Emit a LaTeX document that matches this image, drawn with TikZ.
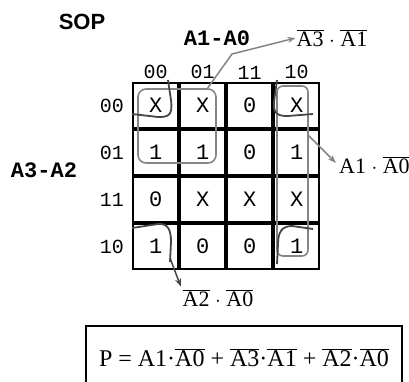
\documentclass[tikz,border=0pt]{standalone}
\usepackage{fontspec}
\setmainfont{Liberation Serif}
\setsansfont{Liberation Sans}
\setmonofont{Liberation Mono}
\usepackage{tikz}
\usetikzlibrary{matrix}
\usetikzlibrary{positioning}
\usetikzlibrary{arrows.meta}
\definecolor{loopgray}{gray}{0.52}
\definecolor{loopdark}{gray}{0.27}
\tikzset{
	kcell/.style={
		draw, line width=2pt, minimum size=45pt, inner sep=0pt, outer sep=0pt,
		font=\fontsize{22}{22}\selectfont\ttfamily
	},
	kindex/.style={inner sep=1pt, font=\fontsize{20}{20}\selectfont\ttfamily},
	kvar/.style={inner sep=1pt, font=\fontsize{22}{22}\selectfont\ttfamily\bfseries},
	kterm/.style={inner sep=1pt, font=\fontsize{22}{24}\selectfont},
	pair loop/.style={draw=loopgray, line width=1.6pt, rounded corners=8pt},
	quad loop/.style={draw=loopdark, line width=1.8pt},
	term arrow/.style={line width=1.5pt, -{Stealth[length=8pt,width=6pt]}}
}
% complemented variable
\newcommand\nt[1]{$\overline{\mbox{#1}}$}

\begin{document}
\begin{tikzpicture}[x=1pt, y=-1pt]
	\useasboundingbox (0,0) rectangle (409,381);

	\matrix (kmap) [matrix of nodes, nodes={kcell}, inner sep=0pt, column sep=0pt, row sep=0pt, anchor=north west] at (132,82) {
		X & X & 0 & X \\
		1 & 1 & 0 & 1 \\
		0 & X & X & X \\
		1 & 0 & 0 & 1 \\
	};

	\foreach \c/\v in {1/00,2/01,3/11,4/10}
		\node[kindex, above=3pt of kmap-1-\c] (col\v) {\v};
	\foreach \r/\v in {1/00,2/01,3/11,4/10}
		\node[kindex, left=8pt of kmap-\r-1] (row\v) {\v};

	\node[inner sep=1pt, font=\fontsize{22}{22}\selectfont\sffamily\bfseries] (sop) at (82,22) {SOP};
	\node[kvar] (a1a0) at (217,38) {A1-A0};
	\node[kvar] (a3a2) at (44,170) {A3-A2};

	\node[kterm] (t2) at (332,38) {\nt{A3} $\cdot$ \nt{A1}};
	\node[kterm, anchor=west] (t1) at (338,165) {A1 $\cdot$ \nt{A0}};
	\node[kterm] (t3) at (218,298) {\nt{A2} $\cdot$ \nt{A0}};

	% groups
	\draw[pair loop] (138,89) rectangle (216,163);
	\draw[pair loop, rounded corners=6pt] (277,86) rectangle (308,256);
	% the four corners
	\draw[quad loop] (168,80) -- (171,100) .. controls (173,116) and (168,117) .. (158,117) -- (132,114);
	\draw[quad loop] (277,80) -- (274,102) .. controls (273,114) and (278,116) .. (288,116) -- (313,114);
	\draw[quad loop] (132,228) -- (158,224) .. controls (168,223) and (171,230) .. (171,242) -- (170,262);
	\draw[quad loop] (313,229) -- (292,226) .. controls (282,226) and (278,232) .. (278,244) -- (277,264);

	\coordinate (g2) at (207,89);
	\coordinate (j2) at (232,54);
	\coordinate (g1) at (308,135);
	\coordinate (g3) at (170,258);
	\draw[term arrow, loopgray] (g2) -- (j2) -- (t2.west);
	\draw[term arrow, loopgray, shorten >=3pt] (g1) -- (t1.west);
	\draw[term arrow, loopdark, shorten >=2pt] (g3) -- (t3.north west);

	\node[draw, line width=1.5pt, anchor=north, minimum width=316pt, text height=31pt, text depth=40pt, inner ysep=10pt, font=\fontsize{24}{26}\selectfont] (eqn) at (244,325) {P = A1·\nt{A0} + \nt{A3}·\nt{A1} + \nt{A2}·\nt{A0}};
\end{tikzpicture}
\end{document}
